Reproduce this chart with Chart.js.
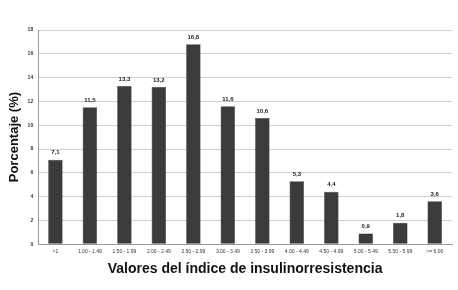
<!DOCTYPE html>
<html>
<head>
<meta charset="utf-8">
<script src="https://cdn.jsdelivr.net/npm/chart.js@4"></script>
<style>
  html, body { margin: 0; padding: 0; background: #fff; }
  #wrap { width: 458px; height: 290px; }
</style>
</head>
<body>
<div id="wrap"><canvas id="chart" width="458" height="290"></canvas></div>
<script>
const categories = ["<1", "1.00 - 1.49", "1.50 - 1.99", "2.00 - 2.49", "2.50 - 2.99", "3.00 - 3.49",
    "3.50 - 3.99", "4.00 - 4.49", "4.50 - 4.99", "5.00 - 5.49", "5.50 - 5.99", ">= 6.00"];
const percentages = [7.1, 11.5, 13.3, 13.2, 16.8, 11.6, 10.6, 5.3, 4.4, 0.9, 1.8, 3.6];
const yTicks = [0, 2, 4, 6, 8, 10, 12, 14, 16, 18];

// labels above each bar, comma as decimal separator
const valueLabels = {
    id: "valueLabels",
    afterDatasetsDraw(chart) {
        const ctx = chart.ctx;
        const meta = chart.getDatasetMeta(0);
        ctx.save();
        ctx.font = "bold 6px Arial, 'Liberation Sans', sans-serif";
        ctx.fillStyle = "#222";
        ctx.textAlign = "center";
        ctx.textBaseline = "bottom";
        meta.data.forEach((bar, i) => {
            ctx.fillText(percentages[i].toFixed(1).replace(".", ","), bar.x, bar.y - 4);
        });
        ctx.restore();
    }
};

new Chart(document.getElementById("chart").getContext("2d"), {
    type: "bar",
    data: {
        labels: categories,
        datasets: [{
            data: percentages,
            backgroundColor: "#3b3b3b",
            borderColor: "#2a2a2a",
            borderWidth: 0.5,
            categoryPercentage: 1,
            barPercentage: 0.42
        }]
    },
    options: {
        responsive: false,
        animation: false,
        layout: { padding: { top: 30, right: 6, left: 7, bottom: 12 } },
        plugins: { legend: { display: false }, tooltip: { enabled: false } },
        scales: {
            x: {
                grid: { display: false, drawTicks: false },
                border: { color: "#999", width: 1 },
                ticks: {
                    color: "#333",
                    font: { size: 5, family: "Arial, 'Liberation Sans', sans-serif" },
                    maxRotation: 0,
                    autoSkip: false,
                    padding: 4
                },
                title: {
                    display: true,
                    text: "Valores del índice de insulinorresistencia",
                    color: "#111",
                    font: { size: 14, weight: "bold", family: "Arial, 'Liberation Sans', sans-serif" },
                    padding: { top: 3, bottom: 0 }
                }
            },
            y: {
                min: 0,
                max: 18,
                afterBuildTicks: axis => { axis.ticks = yTicks.map(v => ({ value: v })); },
                grid: { color: "#bbb", borderDash: [1, 2], drawTicks: false, lineWidth: 0.7 },
                border: { color: "#999", width: 1, dash: [] },
                ticks: {
                    color: "#333",
                    font: { size: 5, weight: "bold", family: "Arial, 'Liberation Sans', sans-serif" },
                    padding: 5
                },
                title: {
                    display: true,
                    text: "Porcentaje (%)",
                    color: "#111",
                    font: { size: 13, weight: "bold", family: "Arial, 'Liberation Sans', sans-serif" },
                    padding: { top: 0, bottom: 0 }
                }
            }
        }
    },
    plugins: [valueLabels]
});
</script>
</body>
</html>
